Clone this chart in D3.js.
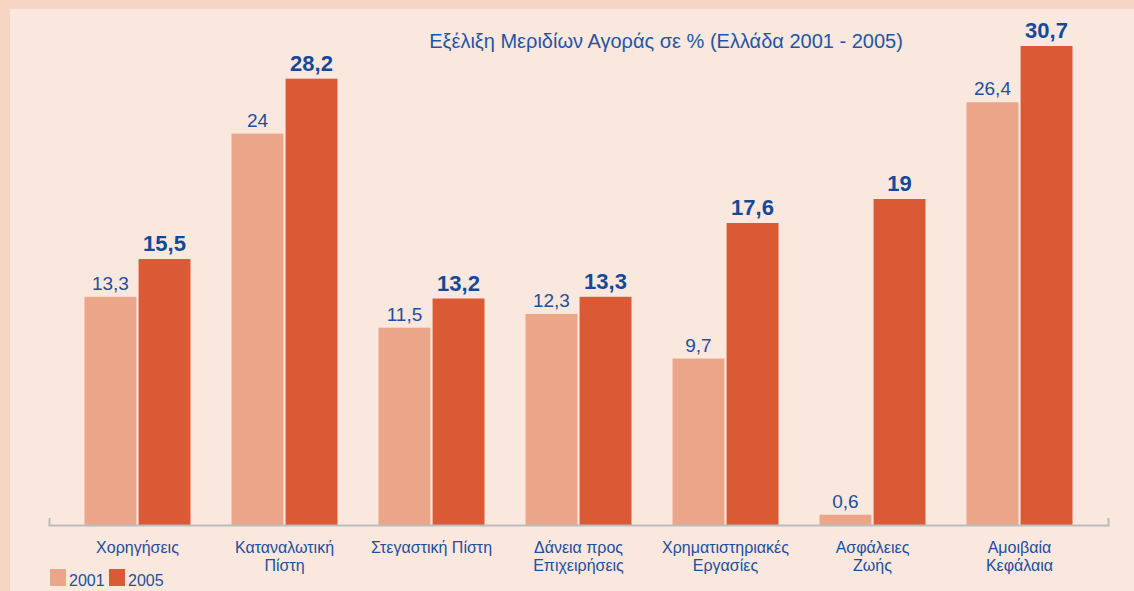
<!DOCTYPE html>
<html>
<head>
<meta charset="utf-8">
<script src="https://cdn.jsdelivr.net/npm/d3@7"></script>
<style>
    body { margin: 0; background: #f6d5c5; }
    svg { display: block; }
    .cat-label { font-family: "Liberation Sans Narrow", "Liberation Sans", Arial, sans-serif; font-size: 16px; fill: #1d4f9b; }
    .val-2001 { font-family: "Liberation Sans", Arial, sans-serif; font-size: 19px; fill: #1d4f9b; }
    .val-2005 { font-family: "Liberation Sans", Arial, sans-serif; font-size: 22px; font-weight: bold; fill: #124a98; }
    .title { font-family: "Liberation Sans", Arial, sans-serif; font-size: 20px; fill: #1f56a4; }
    .legend-text { font-family: "Liberation Sans Narrow", "Liberation Sans", Arial, sans-serif; font-size: 16px; fill: #1d4f9b; }
</style>
</head>
<body>
<div id="chart"></div>
<script>
// data
const categories = ['Χορηγήσεις', 'Καταναλωτική\nΠίστη', 'Στεγαστική Πίστη', 'Δάνεια προς\nΕπιχειρήσεις',
    'Χρηματιστηριακές\nΕργασίες', 'Ασφάλειες\nΖωής', 'Αμοιβαία\nΚεφάλαια'];
const years = ['2001', '2005'];
const values2001 = [13.3, 24, 11.5, 12.3, 9.7, 0.6, 26.4];
const values2005 = [15.5, 28.2, 13.2, 13.3, 17.6, 19, 30.7];
const title = 'Εξέλιξη Μεριδίων Αγοράς σε % (Ελλάδα 2001 - 2005)';

const colors = { '2001': '#eba68a', '2005': '#d95a35' };

const width = 1134, height = 591;

const svg = d3.select('#chart')
    .append('svg')
    .attr('width', width)
    .attr('height', height);

// panel
svg.append('rect')
    .attr('x', 0).attr('y', 0)
    .attr('width', width).attr('height', height)
    .attr('fill', '#f6d5c5');
svg.append('rect')
    .attr('x', 10).attr('y', 9)
    .attr('width', width - 10).attr('height', height - 9)
    .attr('fill', '#fae7de');

const rows = categories.map((c, i) => ({ cat: c, '2001': values2001[i], '2005': values2005[i] }));

const x0 = d3.scaleBand()
    .domain(categories)
    .range([49, 1108])
    .paddingInner(0.279)
    .paddingOuter(0.2415);

const x1 = d3.scaleBand()
    .domain(years)
    .range([0, x0.bandwidth()])
    .paddingInner(0.04);

// the original squeezes the tall bars, so the scale bends above 19
const y = d3.scaleLinear()
    .domain([0, 19, 30.7])
    .range([525, 199, 46]);

const groups = svg.append('g')
    .selectAll('g')
    .data(rows)
    .join('g')
    .attr('transform', d => `translate(${x0(d.cat)},0)`);

groups.selectAll('rect')
    .data(d => years.map(k => ({ key: k, value: d[k] })))
    .join('rect')
    .attr('x', d => x1(d.key))
    .attr('y', d => y(d.value))
    .attr('width', x1.bandwidth())
    .attr('height', d => y(0) - y(d.value))
    .attr('fill', d => colors[d.key]);

groups.selectAll('text.val')
    .data(d => years.map(k => ({ key: k, value: d[k] })))
    .join('text')
    .attr('class', d => 'val val-' + d.key)
    .attr('x', d => x1(d.key) + x1.bandwidth() / 2)
    .attr('y', d => y(d.value) - (d.key === '2005' ? 8 : 7))
    .attr('text-anchor', 'middle')
    .text(d => String(d.value).replace('.', ','));

// axis
const xAxis = d3.axisBottom(x0)
    .tickSizeInner(0)
    .tickSizeOuter(-7)
    .tickPadding(0)
    .tickFormat('');

const xAxisG = svg.append('g')
    .attr('transform', `translate(0,${y(0)})`)
    .call(xAxis);
xAxisG.select('.domain')
    .attr('stroke', '#bcbcbc')
    .attr('stroke-width', 2);

const labels = svg.append('g')
    .selectAll('text')
    .data(categories)
    .join('text')
    .attr('class', 'cat-label')
    .attr('text-anchor', 'middle')
    .attr('y', 553);

labels.selectAll('tspan')
    .data(d => d.split('\n').map(line => ({ line, cat: d })))
    .join('tspan')
    .attr('x', d => x0(d.cat) + x0.bandwidth() / 2)
    .attr('dy', (d, i) => i === 0 ? 0 : 18)
    .text(d => d.line);

// title
svg.append('text')
    .attr('class', 'title')
    .attr('x', 666)
    .attr('y', 48)
    .attr('text-anchor', 'middle')
    .text(title);

// legend
const legend = svg.append('g')
    .attr('transform', 'translate(50,569)')
    .selectAll('g')
    .data(years)
    .join('g')
    .attr('transform', (d, i) => `translate(${i * 59},0)`);

legend.append('rect')
    .attr('width', 16)
    .attr('height', 17)
    .attr('fill', d => colors[d]);

legend.append('text')
    .attr('class', 'legend-text')
    .attr('x', 19)
    .attr('y', 17)
    .text(d => d);
</script>
</body>
</html>
